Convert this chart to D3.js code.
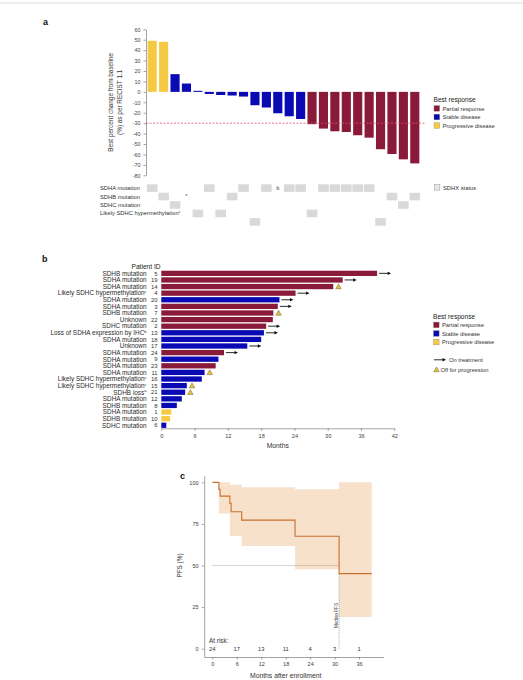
<!DOCTYPE html>
<html>
<head>
<meta charset="utf-8">
<script src="https://cdn.jsdelivr.net/npm/d3@7"></script>
<style>
  body { margin: 0; background: #fff; }
  svg { font-family: "Liberation Sans", Arial, sans-serif; }
  .tick text { fill: #444; }
  .tick line, .domain { stroke: #666; stroke-width: 0.6; }
</style>
</head>
<body>
<svg id="fig" width="523" height="680"></svg>
<script>
// ---------- panel a data (waterfall) ----------
const waterfallValues = [49, 48, 17, 8, 1, -2, -3, -3.5, -4.5, -12.8, -15, -20.5, -23.4, -26,
    -31, -35.2, -37.8, -38.5, -41.6, -43.9, -55, -59.6, -64.7, -68.6];
const waterfallResponse = ["PD", "PD", "SD", "SD", "SD", "SD", "SD", "SD", "SD", "SD", "SD", "SD", "SD", "SD",
    "PR", "PR", "PR", "PR", "PR", "PR", "PR", "PR", "PR", "PR"];
// status grid row per column (0 SDHA, 1 SDHB, 2 SDHC, 3 hypermethylation, 4 unlabelled), -1 = none
const statusRow = [0, 1, 2, -1, 3, 0, 3, 1, 0, 4, 0, -1, 0, 0, 3, 0, 0, 0, 0, 0, 4, 1, 2, 1];
const statusMarks = [{ col: 3, row: 1, text: "*" }, { col: 11, row: 0, text: "b" }];
const statusLabels = ["SDHA mutation", "SDHB mutation", "SDHC mutation", "Likely SDHC hypermethylation"];
const waterfallTicks = [60, 50, 40, 30, 20, 10, 0, -10, -20, -30, -40, -50, -60, -70, -80];

// ---------- panel b data (swimmer) ----------
const patientIds = [5, 19, 14, 4, 20, 3, 7, 22, 2, 13, 18, 17, 24, 9, 23, 11, 16, 15, 21, 12, 8, 1, 10, 6];
const patientLabels = ["SDHB mutation", "SDHA mutation", "SDHA mutation", "Likely SDHC hypermethylation",
    "SDHA mutation", "SDHA mutation", "SDHB mutation", "Unknown", "SDHC mutation",
    "Loss of SDHA expression by IHC", "SDHA mutation", "Unknown", "SDHA mutation", "SDHA mutation",
    "SDHA mutation", "SDHA mutation", "Likely SDHC hypermethylation", "Likely SDHC hypermethylation",
    "SDHB loss", "SDHA mutation", "SDHB mutation", "SDHA mutation", "SDHB mutation", "SDHC mutation"];
const patientSup = ["", "", "", "c", "", "", "", "", "", "b", "", "", "", "", "", "", "c", "c", "a", "", "", "", "", ""];
const swimMonths = [38.9, 32.7, 31.0, 24.2, 21.3, 21.0, 20.2, 20.1, 18.9, 18.5, 18.0, 15.5, 11.3, 10.3,
    9.8, 7.8, 7.3, 4.6, 4.3, 3.7, 2.8, 1.8, 1.6, 0.9];
const swimResponse = ["PR", "PR", "PR", "PR", "SD", "PR", "PR", "PR", "PR", "SD", "SD", "SD", "PR", "SD",
    "PR", "SD", "SD", "SD", "SD", "SD", "SD", "PD", "PD", "SD"];
// "arrow" = on treatment, "tri" = off for progression
const swimMarker = ["arrow", "arrow", "tri", "arrow", "arrow", "arrow", "tri", "", "arrow", "arrow", "", "arrow",
    "arrow", "", "", "tri", "", "tri", "tri", "", "", "", "", ""];
const swimTicks = [0, 6, 12, 18, 24, 30, 36, 42];

// ---------- panel c data (Kaplan-Meier) ----------
const kmTimes = [0, 1.6, 1.9, 4.3, 4.6, 7.2, 20.3, 31.1, 39.1];
const kmSurv = [100, 95.8, 91.7, 87.5, 82.3, 77.3, 67.6, 45.1, 45.1];
const ciTimes = [0, 1.6, 4.3, 7.2, 20.3, 31.1, 39.1];
const ciUpper = [100, 100, 98.5, 97, 95.8, 100, 100];
const ciLower = [100, 81.3, 67.8, 61.8, 47.8, 19, 19];
const atRiskTimes = [0, 6, 12, 18, 24, 30, 36];
const atRiskCounts = [24, 17, 13, 11, 4, 3, 1];
const medianPfs = 31.1;

const colors = { PR: "#8a1a3a", SD: "#0a0ab4", PD: "#f6c945" };
const responseNames = [["PR", "Partial response"], ["SD", "Stable disease"], ["PD", "Progressive disease"]];

const svg = d3.select("#fig");

// thin rule at the top
svg.append("line").attr("x1", 0).attr("x2", 523).attr("y1", 3).attr("y2", 3)
    .attr("stroke", "#d0d0d0").attr("stroke-width", 0.8);

function panelLetter(t, x, y) {
    svg.append("text").attr("x", x).attr("y", y).text(t)
        .attr("font-size", 9).attr("font-weight", "bold").attr("fill", "#111");
}

function responseLegend(x, y) {
    const g = svg.append("g");
    g.append("text").attr("x", x).attr("y", y).text("Best response")
        .attr("font-size", 6.6).attr("fill", "#222");
    responseNames.forEach(([k, name], i) => {
        const yy = y + 8.6 * (i + 1);
        g.append("rect").attr("x", x + 0.5).attr("y", yy - 5).attr("width", 5.6).attr("height", 5.6)
            .attr("fill", colors[k]).attr("stroke", "#777").attr("stroke-width", 0.3);
        g.append("text").attr("x", x + 9).attr("y", yy).text(name)
            .attr("font-size", 5.8).attr("fill", "#333");
    });
}

// ================= panel a =================
panelLetter("a", 43, 25);

const xA = d3.scaleBand().domain(d3.range(waterfallValues.length))
    .range([146.5, 420.5]).paddingInner(0.2).paddingOuter(0.1);
const yA = d3.scaleLinear().domain([-80, 60]).range([175.3, 29.3]);

svg.append("g").attr("transform", "translate(146,0)")
    .call(d3.axisLeft(yA).tickValues(waterfallTicks).tickSize(2.5).tickSizeOuter(0).tickFormat(d => d))
    .call(g => g.selectAll("text").attr("font-size", 5.4).attr("font-family", "Liberation Sans, Arial"));

svg.append("g").selectAll("rect")
    .data(waterfallValues)
    .join("rect")
    .attr("x", (d, i) => xA(i))
    .attr("width", xA.bandwidth())
    .attr("y", d => yA(Math.max(0, d)))
    .attr("height", d => Math.abs(yA(d) - yA(0)))
    .attr("fill", (d, i) => colors[waterfallResponse[i]]);

// -30% threshold
svg.append("line").attr("x1", 146).attr("x2", 425).attr("y1", yA(-30)).attr("y2", yA(-30))
    .attr("stroke", "#d9546b").attr("stroke-width", 0.8).attr("stroke-dasharray", "2,1.5");

svg.append("text")
    .attr("transform", `translate(113,${yA(-10)}) rotate(-90)`)
    .attr("text-anchor", "middle").attr("font-size", 6.4).attr("fill", "#333")
    .text("Best percent change from baseline");
svg.append("text")
    .attr("transform", `translate(121.5,${yA(-10)}) rotate(-90)`)
    .attr("text-anchor", "middle").attr("font-size", 6.4).attr("fill", "#333")
    .text("(%) as per RECIST 1.1");

responseLegend(433.5, 102);

// SDHx status grid
const rowTop = r => 184.3 + r * 8.45;
svg.append("g").selectAll("rect")
    .data(statusRow.map((r, i) => ({ r: r, i: i })).filter(d => d.r >= 0))
    .join("rect")
    .attr("x", d => xA(d.i) + xA.bandwidth() / 2 - 5.3)
    .attr("y", d => rowTop(d.r))
    .attr("width", 10.6)
    .attr("height", 7.6)
    .attr("fill", "#d9d9d9");

statusMarks.forEach(m => {
    svg.append("text").attr("x", xA(m.col) + xA.bandwidth() / 2).attr("y", rowTop(m.row) + 5.5)
        .attr("text-anchor", "middle").attr("font-size", 5).attr("fill", "#333").text(m.text);
});

statusLabels.forEach((lab, r) => {
    const t = svg.append("text").attr("x", 100).attr("y", rowTop(r) + 5.8)
        .attr("font-size", 5.8).attr("fill", "#333").text(lab);
    if (r == 3) {
        t.append("tspan").attr("font-size", 3.6).attr("dy", -2.2).text("c");
    }
});

svg.append("rect").attr("x", 434.3).attr("y", 184.5).attr("width", 5.6).attr("height", 5.6)
    .attr("fill", "#e6e6e6").attr("stroke", "#888").attr("stroke-width", 0.4);
svg.append("text").attr("x", 443).attr("y", 189.8).attr("font-size", 5.8).attr("fill", "#333").text("SDHX status");

// ================= panel b =================
panelLetter("b", 42, 262);

const xB = d3.scaleLinear().domain([0, 42]).range([161.3, 394.3]);
const yB = d3.scaleBand().domain(patientIds).range([270.7, 427.9]).paddingInner(0.2);

svg.append("text").attr("x", 160.5).attr("y", 268.5).attr("text-anchor", "end")
    .attr("font-size", 6.6).attr("fill", "#222").text("Patient ID");

svg.append("g").selectAll("rect")
    .data(swimMonths)
    .join("rect")
    .attr("x", xB(0))
    .attr("y", (d, i) => yB(patientIds[i]))
    .attr("width", d => xB(d) - xB(0))
    .attr("height", yB.bandwidth())
    .attr("fill", (d, i) => colors[swimResponse[i]]);

patientIds.forEach((id, i) => {
    const cy = yB(id) + yB.bandwidth() / 2;
    const t = svg.append("text").attr("x", 146.5).attr("y", cy + 2.3).attr("text-anchor", "end")
        .attr("font-size", 6.4).attr("fill", "#2a2a2a").text(patientLabels[i]);
    if (patientSup[i]) {
        t.append("tspan").attr("font-size", 4).attr("dy", -2.4).text(patientSup[i]);
    }
    svg.append("text").attr("x", 157.5).attr("y", cy + 2.2).attr("text-anchor", "end")
        .attr("font-size", 5.9).attr("fill", "#333").text(id);
});

function drawArrow(x, y, len) {
    svg.append("line").attr("x1", x).attr("x2", x + len - 2.5).attr("y1", y).attr("y2", y)
        .attr("stroke", "#111").attr("stroke-width", 0.9);
    svg.append("path").attr("d", `M${x + len},${y} L${x + len - 3.5},${y - 1.7} L${x + len - 3.5},${y + 1.7} Z`)
        .attr("fill", "#111");
}
function drawTri(x, y) {
    svg.append("path").attr("d", `M${x},${y + 2.2} L${x + 5.4},${y + 2.2} L${x + 2.7},${y - 2.6} Z`)
        .attr("fill", "#e7c24a").attr("stroke", "#6b5a1e").attr("stroke-width", 0.5);
}

swimMarker.forEach((m, i) => {
    const cy = yB(patientIds[i]) + yB.bandwidth() / 2;
    const x = xB(swimMonths[i]);
    if (m == "arrow") drawArrow(x + 2, cy, 12);
    if (m == "tri") drawTri(x + 2.5, cy);
});

svg.append("g").attr("transform", "translate(0,428.3)")
    .call(d3.axisBottom(xB).tickValues(swimTicks).tickSize(2.5).tickSizeOuter(0))
    .call(g => g.selectAll("text").attr("font-size", 5.6).attr("font-family", "Liberation Sans, Arial"));

svg.append("text").attr("x", xB(21)).attr("y", 448).attr("text-anchor", "middle")
    .attr("font-size", 6.8).attr("fill", "#333").text("Months");

responseLegend(433, 318.5);
drawArrow(434, 359.8, 12);
svg.append("text").attr("x", 449).attr("y", 362).attr("font-size", 5.8).attr("fill", "#333").text("On treatment");
drawTri(433.8, 369.5);
svg.append("text").attr("x", 440.5).attr("y", 372).attr("font-size", 5.8).attr("fill", "#333").text("Off for progression");

// ================= panel c =================
panelLetter("c", 180, 479);

const xC = d3.scaleLinear().domain([-2, 42]).range([204.2, 383.5]);
const yC = d3.scaleLinear().domain([-5, 104]).range([657, 475.7]);

const ciData = ciTimes.map((t, i) => ({ t: t, lo: ciLower[i], hi: ciUpper[i] }));
svg.append("path")
    .datum(ciData)
    .attr("d", d3.area().curve(d3.curveStepAfter)
        .x(d => xC(d.t)).y0(d => yC(d.lo)).y1(d => yC(d.hi)))
    .attr("fill", "#f7e1cb");

// median PFS guide lines
svg.append("line").attr("x1", xC(0)).attr("x2", xC(medianPfs)).attr("y1", yC(50)).attr("y2", yC(50))
    .attr("stroke", "#777").attr("stroke-width", 0.6).attr("stroke-dasharray", "1,1");
svg.append("line").attr("x1", xC(medianPfs)).attr("x2", xC(medianPfs)).attr("y1", yC(45)).attr("y2", yC(0))
    .attr("stroke", "#777").attr("stroke-width", 0.6).attr("stroke-dasharray", "1,1");
svg.append("text")
    .attr("transform", `translate(${xC(medianPfs) - 1.5},${yC(20)}) rotate(-90)`)
    .attr("text-anchor", "middle").attr("font-size", 4.6).attr("fill", "#444").text("Median PFS");

const kmData = kmTimes.map((t, i) => ({ t: t, s: kmSurv[i] }));
svg.append("path")
    .datum(kmData)
    .attr("d", d3.line().curve(d3.curveStepAfter).x(d => xC(d.t)).y(d => yC(d.s)))
    .attr("fill", "none").attr("stroke", "#c8702c").attr("stroke-width", 1.1);

svg.append("g").attr("transform", "translate(204.2,0)")
    .call(d3.axisLeft(yC).tickValues([0, 25, 50, 75, 100]).tickSize(2.5).tickSizeOuter(0))
    .call(g => g.selectAll("text").attr("font-size", 5.6).attr("font-family", "Liberation Sans, Arial"));
svg.append("g").attr("transform", "translate(0,657)")
    .call(d3.axisBottom(xC).tickValues(atRiskTimes).tickSize(2.5).tickSizeOuter(0))
    .call(g => g.selectAll("text").attr("font-size", 5.6).attr("font-family", "Liberation Sans, Arial"));

svg.append("text").attr("transform", `translate(182,${yC(50)}) rotate(-90)`)
    .attr("text-anchor", "middle").attr("font-size", 6.4).attr("fill", "#333").text("PFS (%)");
svg.append("text").attr("x", xC(18)).attr("y", 678).attr("text-anchor", "middle")
    .attr("font-size", 6.8).attr("fill", "#333").text("Months after enrollment");

svg.append("text").attr("x", 209).attr("y", 643).attr("font-size", 6.4).attr("fill", "#333").text("At risk:");
svg.append("g").selectAll("text")
    .data(atRiskCounts)
    .join("text")
    .attr("x", (d, i) => xC(atRiskTimes[i]))
    .attr("y", 650.8)
    .attr("text-anchor", "middle")
    .attr("font-size", 5.8)
    .attr("fill", "#333")
    .text(d => d);
</script>
</body>
</html>
